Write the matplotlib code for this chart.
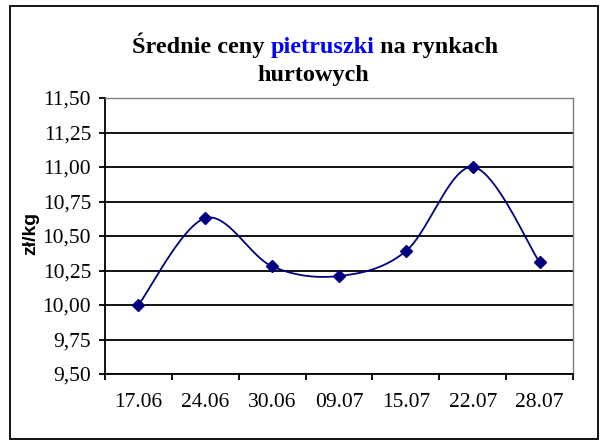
import numpy as np
import matplotlib
matplotlib.use("Agg")
import matplotlib.pyplot as plt
from matplotlib.patches import Rectangle

# data
dates = ["17.06", "24.06", "30.06", "09.07", "15.07", "22.07", "28.07"]
prices = [10.00, 10.63, 10.28, 10.21, 10.39, 11.00, 10.31]
yticks = [9.50, 9.75, 10.00, 10.25, 10.50, 10.75, 11.00, 11.25, 11.50]

W, H = 608, 442
fig = plt.figure(figsize=(W / 100, H / 100), dpi=100)
fig.patch.set_facecolor("white")

# outer chart border
fig.patches.append(Rectangle((10 / W, 1 - 439 / H), 588 / W, 433 / H,
                             transform=fig.transFigure, fill=False,
                             edgecolor="black", linewidth=1.3))

ax = fig.add_axes([105 / W, 1 - 374 / H, 468 / W, 276 / H])

x = np.arange(len(prices))
y = np.array(prices)

# smoothed line like the spreadsheet one (cardinal bezier)
px = np.concatenate([[x[0]], x, [x[-1]]])
py = np.concatenate([[y[0]], y, [y[-1]]])
cx, cy = [], []
t = np.linspace(0, 1, 40)
for i in range(1, len(px) - 2):
    p0 = np.array([px[i], py[i]])
    p3 = np.array([px[i + 1], py[i + 1]])
    p1 = p0 + (np.array([px[i + 1], py[i + 1]]) - np.array([px[i - 1], py[i - 1]])) / 6
    p2 = p3 - (np.array([px[i + 2], py[i + 2]]) - np.array([px[i], py[i]])) / 6
    b = ((1 - t) ** 3)[:, None] * p0 + (3 * (1 - t) ** 2 * t)[:, None] * p1 \
        + (3 * (1 - t) * t ** 2)[:, None] * p2 + (t ** 3)[:, None] * p3
    cx.extend(b[:, 0])
    cy.extend(b[:, 1])

ax.plot(cx, cy, color="#000080", linewidth=1.3, zorder=3)
ax.plot(x, y, linestyle="none", marker="D", markersize=6.5,
        color="#000080", zorder=4)

ax.set_xlim(-0.5, len(prices) - 0.5)
ax.set_ylim(9.5, 11.5)
ax.set_yticks(yticks)
ax.set_yticklabels([f"{v:.2f}".replace(".", ",") for v in yticks],
                   family="Liberation Serif", fontsize=15.5)
ax.set_xticks(np.arange(len(prices) + 1) - 0.5)
ax.set_xticklabels([])
ax.set_xticks(x, minor=True)
ax.set_xticklabels(dates, minor=True, family="Liberation Serif", fontsize=15.5)
ax.tick_params(axis="x", which="minor", length=0, pad=14)
ax.tick_params(axis="x", which="major", direction="out", length=4, width=1.3)
ax.tick_params(axis="y", direction="out", length=4, width=1.3, pad=6)

ax.yaxis.grid(True, color="black", linewidth=1.3)
ax.set_axisbelow(True)
for s in ["left", "bottom"]:
    ax.spines[s].set_linewidth(1.3)
    ax.spines[s].set_color("black")
for s in ["top", "right"]:
    ax.spines[s].set_linewidth(1.0)
    ax.spines[s].set_color("#808080")

fig.text(31 / W, 1 - 233 / H, "zł/kg", rotation=90, ha="center", va="center",
         family="Liberation Sans", fontweight="bold", fontsize=14)

# title with one coloured word
def title_line(parts, cx_px, base_px):
    r = fig.canvas.get_renderer()
    texts = []
    xpos = 0
    for s, c in parts:
        tx = fig.text(xpos / W, 1 - base_px / H, s, color=c, ha="left",
                      va="baseline", family="Liberation Serif",
                      fontweight="bold", fontsize=17.5)
        bb = tx.get_window_extent(renderer=r)
        texts.append(tx)
        xpos += bb.width
    start = cx_px - xpos / 2
    off = 0
    for tx in texts:
        tx.set_x((start + off) / W)
        off += tx.get_window_extent(renderer=r).width

title_line([("Średnie ceny ", "black"), ("pietruszki", "#0000FF"),
            (" na rynkach", "black")], 315, 53)
title_line([("hurtowych", "black")], 313, 81)

fig.savefig("out.png", dpi=100, facecolor="white")
